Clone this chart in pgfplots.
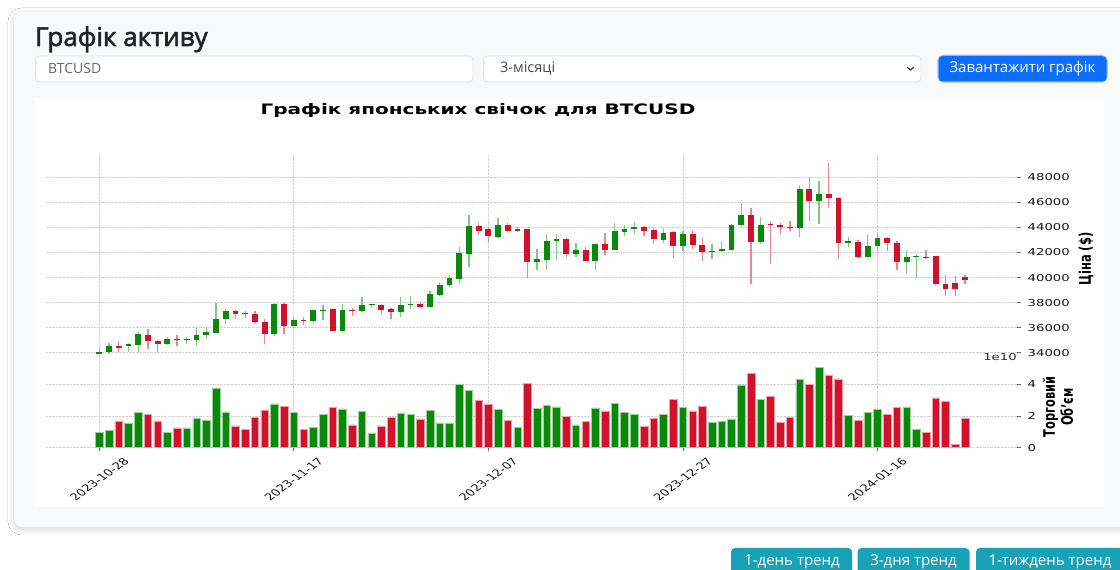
\documentclass[border=0pt]{standalone}
\usepackage{pgfplots}
\pgfplotsset{compat=1.18}
\usepackage{pgfplotstable}
\usepackage{fontspec}
\usetikzlibrary{shadows.blur}
\setmainfont{DejaVu Sans}
\newfontfamily\chartfont{DejaVu Sans}
\newfontfamily\uifont{Open Sans}
\newfontfamily\uimed[FakeBold=2.2]{Open Sans}

\definecolor{upc}{HTML}{0A8A0A}
\definecolor{dnc}{HTML}{D2122B}
\definecolor{cardbg}{HTML}{F8F9FA}
\definecolor{uitext}{HTML}{212529}
\definecolor{uiborder}{HTML}{DEE2E6}
\definecolor{btnblue}{HTML}{0D6EFD}
\definecolor{btnring}{HTML}{9EC5FE}
\definecolor{btnteal}{HTML}{17A2B8}

% matplotlib output is squeezed vertically
\newcommand\sq[1]{\scalebox{1}[0.72]{#1}}
\newcommand\dl[1]{\scalebox{1}[0.72]{\rotatebox{45}{#1}}}
\newcommand\tickfont{\chartfont\fontsize{13.2}{15}\selectfont}

% day index, open, high, low, close, volume (1e10)
\pgfplotstableread{
d O H L C V
0 33930 34450 33880 34100 0.99
1 34030 34770 33920 34510 1.12
3 34560 34770 34030 34670 1.57
4 34610 35630 34080 35470 2.22
7 34720 35250 34610 35100 0.95
9 35000 35250 34720 35070 1.25
10 34990 35970 34530 35440 1.86
11 35410 36050 35120 35650 1.74
12 35570 37970 35570 36720 3.79
13 36670 37520 36320 37310 2.26
18 35470 37970 35360 37870 2.77
20 36130 36850 35890 36590 2.22
22 36530 37490 36450 37390 1.29
23 37380 37790 36590 37440 2.10
25 35710 37870 35650 37440 2.46
27 37310 38450 37230 37790 2.31
28 37800 37920 37680 37870 0.89
31 37230 38450 36850 37840 2.20
32 37820 38500 37520 37900 2.10
34 37680 38930 37650 38720 2.35
35 38640 39680 38560 39440 1.57
36 39390 40210 39250 40000 1.57
37 39920 42400 39470 41970 4.00
38 41920 44960 40850 44110 3.64
41 43250 44750 43120 44210 2.43
43 43680 44050 43630 43840 1.29
45 41230 42290 40640 41470 2.48
46 41440 43470 40590 42880 2.67
47 42930 43470 41440 43040 2.58
49 41890 42720 41650 42240 1.44
51 41330 42670 40530 42640 2.52
53 42240 44370 42240 43710 2.79
54 43630 44210 43310 43890 2.22
55 43890 44430 43470 44030 2.10
58 42990 43840 42770 43570 2.10
60 42510 43680 42130 43490 2.54
63 42050 42670 41520 42130 1.61
64 42130 42930 42030 42320 1.65
65 42240 44250 42200 44210 1.82
66 44160 45970 44110 44990 3.98
68 42830 44800 42640 44210 3.07
72 43950 47360 43200 47040 4.32
74 46110 47680 44270 46690 5.08
77 42750 43250 42450 42880 2.05
79 41650 43360 41600 42530 2.22
80 42510 43570 42030 43150 2.41
83 41280 42190 40270 41650 2.58
84 41650 41870 40000 41730 1.16
}\upcandles

\pgfplotstableread{
d O H L C V
2 34510 34930 34050 34400 1.69
5 35390 35920 34320 34930 2.10
6 34930 35040 34080 34720 1.69
8 35100 35410 34510 35000 1.25
14 37310 37440 36670 37120 1.38
15 37170 37330 36770 37070 1.16
16 37070 37330 36400 36450 1.90
17 36450 36720 34670 35520 2.39
19 37870 37970 35520 36130 2.62
21 36590 36850 36190 36530 1.16
24 37490 37600 35710 35730 2.54
26 37440 37600 36910 37310 1.44
29 37790 37870 37070 37390 1.38
30 37490 37600 36720 37220 1.90
33 37900 38080 37600 37680 1.82
39 44080 44320 43360 43730 2.98
40 43840 44000 42850 43310 2.77
42 44210 44370 43600 43680 1.74
44 43840 43890 40000 41230 4.08
48 43040 43120 41650 41870 1.97
50 42240 42400 41280 41330 1.65
52 42640 43520 41790 42240 2.33
56 44000 44110 43310 43680 1.33
57 43790 43950 42640 43040 1.86
59 43630 43680 41570 42510 3.05
61 43490 43790 42270 42560 2.33
62 42590 43170 41310 42050 2.62
67 44990 45520 39520 42850 4.68
69 44260 44480 41070 44160 3.26
70 44210 44320 43470 44030 1.61
71 44050 44530 43680 43950 1.90
73 47040 48000 44530 46110 4.00
75 46690 49120 45570 46320 4.61
76 46350 46450 41490 42770 4.36
78 42800 42990 41600 41650 1.74
81 43150 43200 42130 42750 2.10
82 42770 42930 40640 41280 2.54
85 41680 42240 41490 41550 0.95
86 41710 41760 39410 39470 3.15
87 39520 40210 38510 39090 2.94
88 39570 40160 38560 39090 0.19
89 40080 40210 39520 39810 1.88
}\downcandles

\pgfplotsset{
  panel/.style={
    scale only axis, width=971pt,
    xmin=-5.48, xmax=94.35,
    axis line style={draw=none},
    xtick={0,20,40,60,80}, xtick pos=lower,
    ytick pos=right, yticklabel pos=right,
    scaled y ticks=false,
    tick align=outside, major tick length=3.5pt,
    ytick style={draw=black!55, line width=0.8pt},
    grid=major,
    major grid style={densely dotted, line width=0.8pt, black!18},
    tick label style={font=\tickfont, text=black!92},
    yticklabel style={inner sep=0pt, xshift=7pt},
  },
  wick/.style={forget plot, draw=none, mark=none,
    error bars/.cd, y dir=plus, y explicit, error mark=none,
    error bar style={line width=1.3pt, draw=#1}},
  body/.style={forget plot, draw=none, mark=none,
    error bars/.cd, y dir=plus, y explicit, error mark=none,
    error bar style={line width=5.8pt, draw=#1}},
}

\begin{document}
\begin{tikzpicture}[x=1pt, y=1pt]
\clip (0,0) rectangle (1120,570);
\fill[white] (0,0) rectangle (1120,570);

% card
\fill[cardbg, rounded corners=8pt,
  blur shadow={shadow blur steps=10, shadow xshift=0pt, shadow yshift=-2pt,
  shadow blur radius=6pt, shadow opacity=18}]
  (14,43) rectangle (1128,558);

% header
\node[anchor=base west, inner sep=0pt, text=uitext] at (35,524)
  {\uimed\fontsize{26}{31}\selectfont Графік активу};
\draw[uiborder, fill=white, rounded corners=4pt, line width=0.8pt]
  (35.5,514) rectangle (473,488);
\node[anchor=west, inner sep=0pt, text=black!60] at (48,501)
  {\uifont\fontsize{14}{16}\selectfont BTCUSD};
\draw[uiborder, fill=white, rounded corners=4pt, line width=0.8pt]
  (483.5,514) rectangle (921,488);
\node[anchor=west, inner sep=0pt, text=black!70] at (500,501)
  {\uifont\fontsize{14.5}{17}\selectfont 3-місяці};
\draw[black!75, line width=1.2pt, line cap=round, line join=round]
  (907.5,502.5) -- (910.5,499.8) -- (913.5,502.5);
\draw[btnring, line width=2.5pt, rounded corners=5pt]
  (938.5,514) rectangle (1106.5,488.5);
\fill[btnblue, rounded corners=4pt] (938.5,514) rectangle (1106.5,488.5);
\node[text=white, inner sep=0pt] at (1022.5,501)
  {\uifont\fontsize{15}{17}\selectfont Завантажити графік};

% chart canvas
\fill[white] (35,473) rectangle (1104,63);

% price panel
\begin{axis}[panel, at={(46pt,209pt)}, anchor=south west, height=206pt,
  ymin=33345, ymax=49780,
  xticklabels={}, xtick style={draw=none},
  ytick={34000,36000,38000,40000,42000,44000,46000,48000},
  yticklabels={\sq{34000},\sq{36000},\sq{38000},\sq{40000},\sq{42000},\sq{44000},\sq{46000},\sq{48000}},
]
\addplot[wick=upc!50!white] table[x=d, y=L, y error plus expr=\thisrow{H}-\thisrow{L}, y error minus expr=0] {\upcandles};
\addplot[wick=dnc!50!white] table[x=d, y=L, y error plus expr=\thisrow{H}-\thisrow{L}, y error minus expr=0] {\downcandles};
\addplot[body=upc] table[x=d, y=O, y error plus expr=\thisrow{C}-\thisrow{O}, y error minus expr=0] {\upcandles};
\addplot[body=dnc] table[x=d, y=C, y error plus expr=\thisrow{O}-\thisrow{C}, y error minus expr=0] {\downcandles};
\end{axis}

% volume panel
\begin{axis}[panel, at={(46pt,122.3pt)}, anchor=south west, height=86.9pt,
  ymin=0, ymax=5.5,
  ytick={0,2,4}, yticklabels={\sq{0},\sq{2},\sq{4}},
  xtick style={draw=black!60, line width=0.8pt},
  xticklabels={\dl{2023-10-28},\dl{2023-11-17},\dl{2023-12-07},\dl{2023-12-27},\dl{2024-01-16}},
  xticklabel style={anchor=north, inner sep=0pt, yshift=-6pt},
]
\addplot[ybar, bar width=0.78, bar shift=0pt, fill=upc, draw=upc!40!white, line width=0.5pt]
  table[x=d, y=V] {\upcandles};
\addplot[ybar, bar width=0.78, bar shift=0pt, fill=dnc, draw=dnc!40!white, line width=0.5pt]
  table[x=d, y=V] {\downcandles};
\end{axis}

% chart texts
\node[inner sep=0pt] at (478,459)
  {\scalebox{1}[0.72]{\chartfont\bfseries\fontsize{20}{23}\selectfont Графік японських свічок для BTCUSD}};
\node[inner sep=0pt, text=black!85] at (1000,213) {\tickfont\sq{1e10}};
\node[rotate=90, inner sep=0pt] at (1086,311)
  {\scalebox{0.72}[1]{\chartfont\bfseries\fontsize{16}{19}\selectfont Ціна (\$)}};
\node[rotate=90, inner sep=0pt] at (1060,163)
  {\scalebox{0.72}[1]{\chartfont\bfseries\fontsize{15.8}{19}\selectfont
   \begin{tabular}{@{}c@{}}Торговий\\[-1pt]Об’єм\end{tabular}}};

% trend buttons
\fill[btnteal, rounded corners=4pt] (731,22) rectangle (852,-8);
\fill[btnteal, rounded corners=4pt] (857.5,22) rectangle (969.5,-8);
\fill[btnteal, rounded corners=4pt] (976,22) rectangle (1130,-8);
\node[text=white, inner sep=0pt] at (792,8) {\uifont\fontsize{15}{17}\selectfont 1-день тренд};
\node[text=white, inner sep=0pt] at (913.5,8) {\uifont\fontsize{15}{17}\selectfont 3-дня тренд};
\node[text=white, inner sep=0pt] at (1050,8) {\uifont\fontsize{15}{17}\selectfont 1-тиждень тренд};
\end{tikzpicture}
\end{document}
